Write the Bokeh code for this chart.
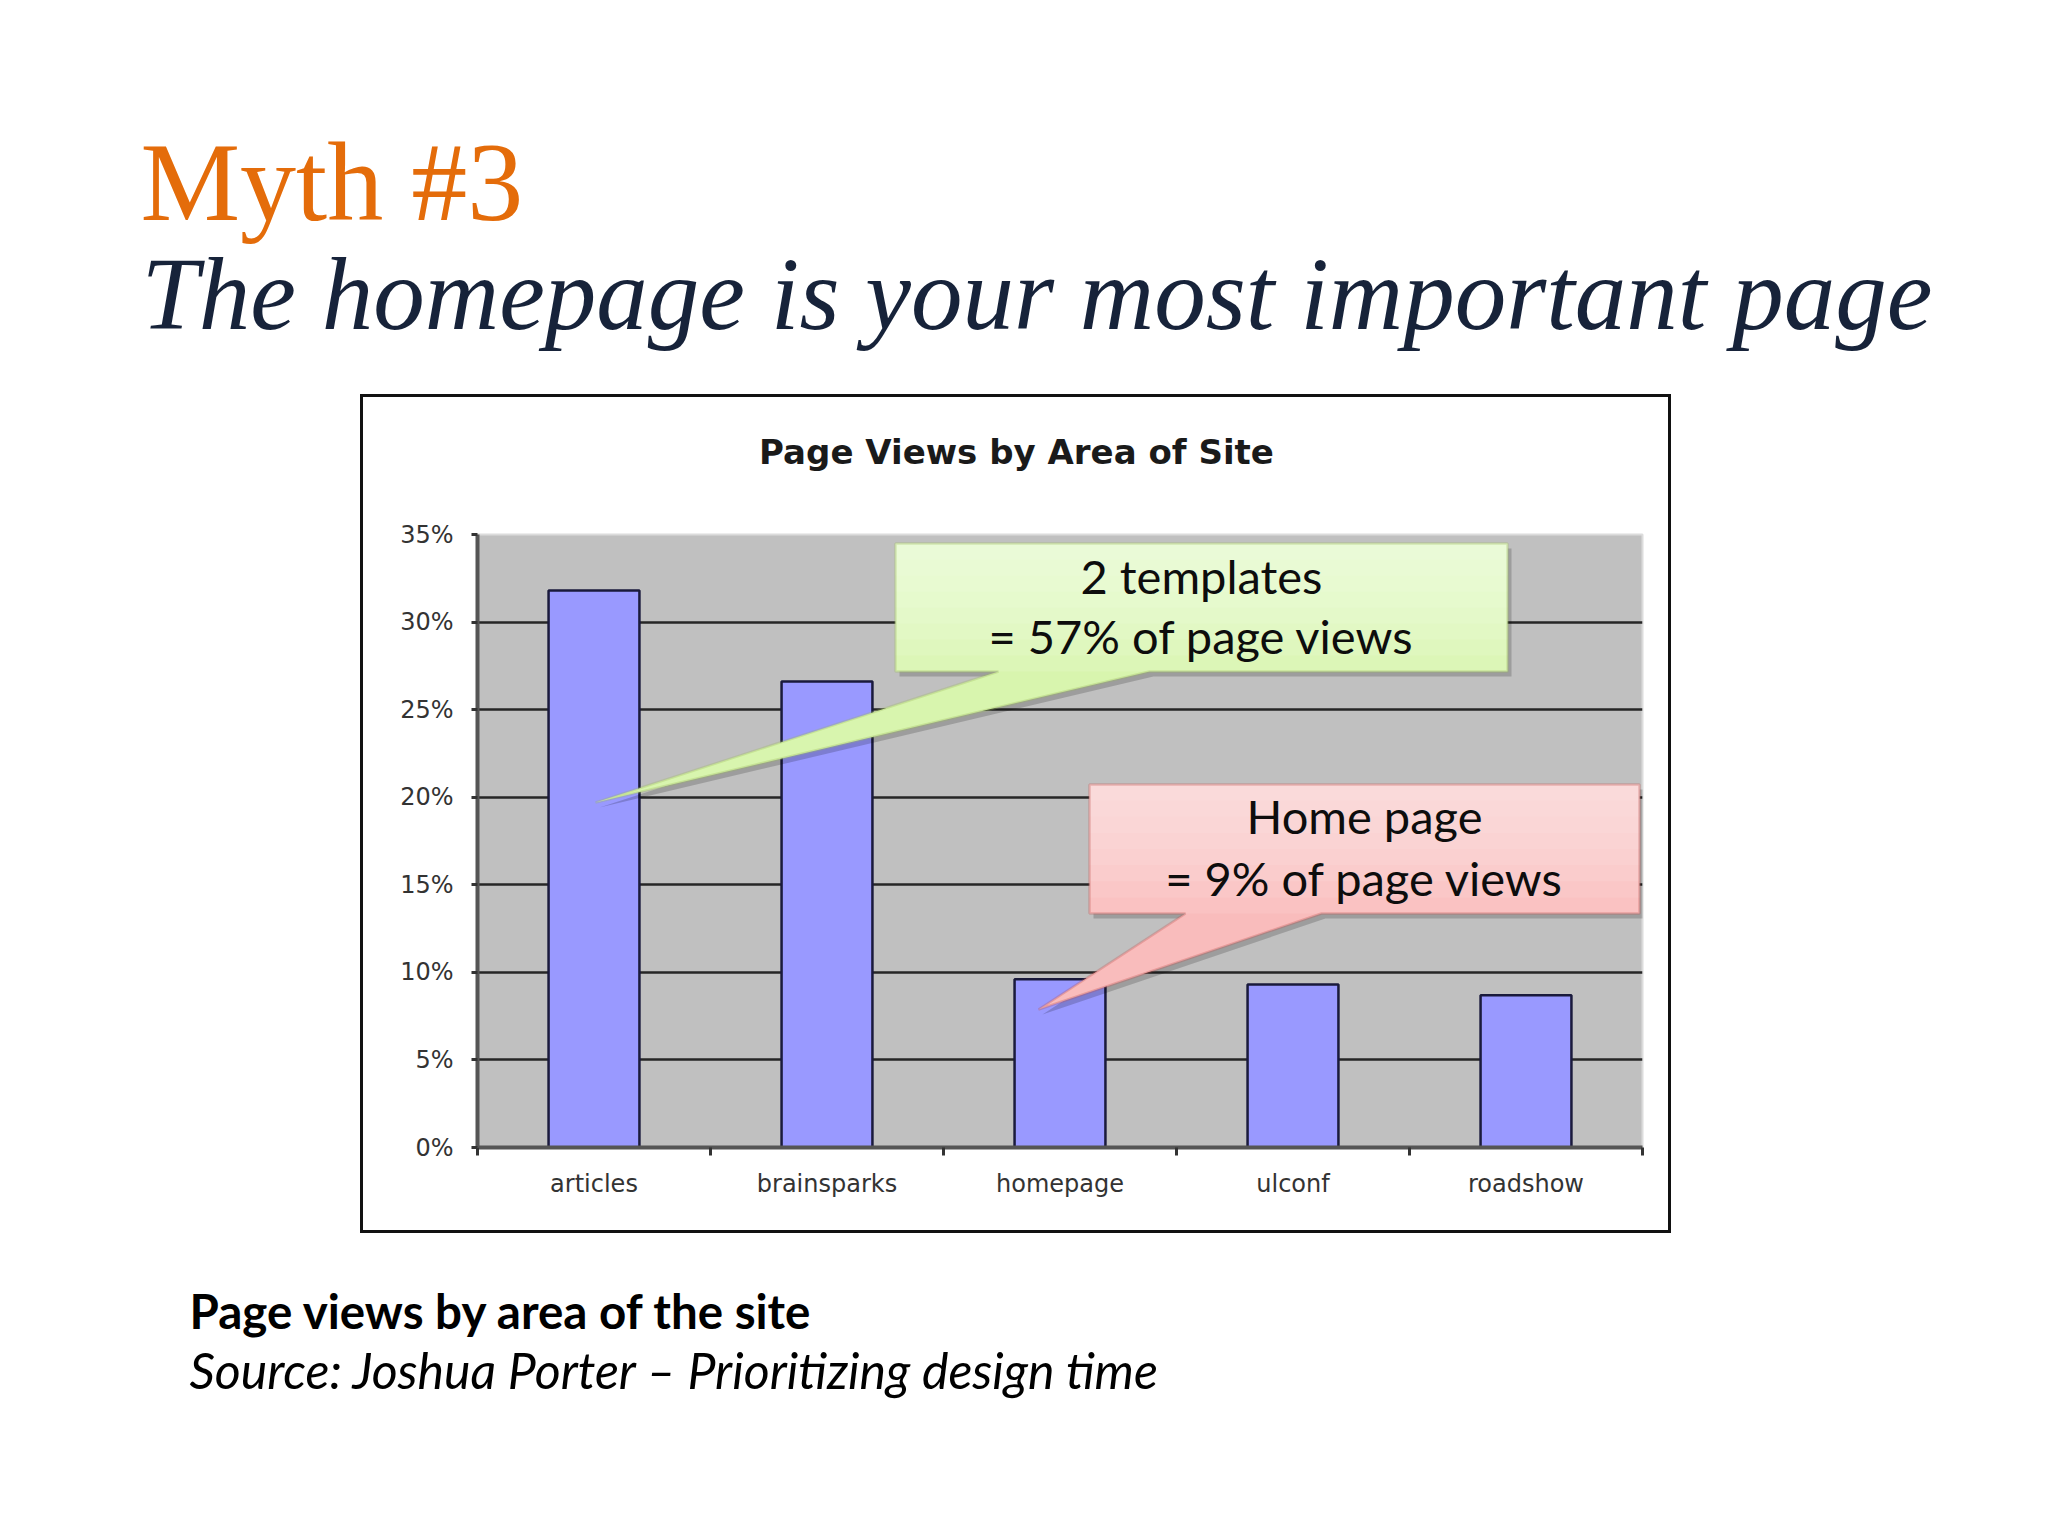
from bokeh.plotting import figure
from bokeh.layouts import column, row
from bokeh.models import (FactorRange, Range1d, LinearAxis, CategoricalAxis, FixedTicker,
                          PrintfTickFormatter, Label, PolyAnnotation, BoxAnnotation, Spacer)
from bokeh.embed import file_html
from bokeh.resources import INLINE

# ---------------- data ----------------
categories = ["articles", "brainsparks", "homepage", "ulconf", "roadshow"]
page_view_share = [31.8, 26.6, 9.6, 9.3, 8.7]   # percent of page views
y_ticks = [0, 5, 10, 15, 20, 25, 30, 35]
grid_ticks = [5, 10, 15, 20, 25, 30]

slide_title = "Myth #3"
slide_subtitle = "The homepage is your most important page"
chart_title = "Page Views by Area of Site"
callout_green = ["2 templates", "= 57% of page views"]
callout_red = ["Home page", "= 9% of page views"]
caption_bold = "Page views by area of the site"
caption_source = "Source: Joshua Porter \u2013 Prioritizing design time"

# ---------------- page geometry (pixels) ----------------
PAGE_W = 2040
LINE = 3                                   # chart box line width
BOX_L, BOX_T, BOX_R, BOX_B = 363, 397, 1668, 1230   # inner edges of the chart box
FR_L, FR_T, FR_R, FR_B = 477, 534, 1642, 1147       # plot area
TITLE_H = 100
BOTTOM_H = 1536 - BOX_B - LINE
BASE_SHIFT = 0.38                          # alphabetic-baseline correction (em)


def blank_fig(w, h):
    f = figure(width=w, height=h, x_range=Range1d(0, w), y_range=Range1d(h, 0),
               output_backend="svg", toolbar_location=None,
               x_axis_location=None, y_axis_location=None,
               min_border=0, outline_line_color=None)
    f.title.visible = False
    f.grid.visible = False
    f.background_fill_color = "white"
    f.border_fill_color = "white"
    return f


def add_text(f, x, y, text, font, size, color, style="normal", align="left"):
    f.add_layout(Label(x=x, y=y - BASE_SHIFT * size, x_units="canvas", y_units="canvas",
                       text=text, text_font=font, text_font_size=f"{size}px",
                       text_color=color, text_font_style=style, text_align=align,
                       text_baseline="alphabetic"))


def line_block(w, h):
    return Spacer(width=w, height=h, margin=0, styles={"background-color": "#111111"})


# ---------------- top: slide heading ----------------
top = blank_fig(PAGE_W, BOX_T - LINE)
add_text(top, 140, 224, slide_title, "Liberation Serif", 112, "#e46c0a")
add_text(top, 141, 333, slide_subtitle, "Liberation Serif", 103, "#17233a", style="italic")

# ---------------- chart title strip ----------------
CW = BOX_R - BOX_L
tfig = blank_fig(CW, TITLE_H)
add_text(tfig, 1016 - BOX_L, 464 - BOX_T, chart_title, "DejaVu Sans", 34, "#1a1a1a",
         style="bold", align="center")

# ---------------- chart ----------------
C_T = BOX_T + TITLE_H
CH = BOX_B - C_T
p = figure(width=CW, height=CH, x_range=FactorRange(*categories), y_range=Range1d(0, 35),
           output_backend="svg", toolbar_location=None, x_axis_location=None,
           min_border_left=FR_L - BOX_L, min_border_right=BOX_R - FR_R,
           min_border_top=FR_T - C_T, min_border_bottom=BOX_B - FR_B)
p.title.visible = False
p.background_fill_color = "#c0c0c0"
p.border_fill_color = "white"
p.outline_line_color = "#dcdcdc"
p.outline_line_width = 2
p.xgrid.visible = False
p.ygrid.ticker = FixedTicker(ticks=grid_ticks)
p.ygrid.grid_line_color = "#262626"
p.ygrid.grid_line_width = 2.5

ya = p.yaxis[0]
ya.ticker = FixedTicker(ticks=y_ticks)
ya.formatter = PrintfTickFormatter(format="%d%%")
ya.major_label_text_font = "DejaVu Sans"
ya.major_label_text_font_size = "24px"
ya.major_label_text_color = "#333333"
ya.axis_line_color = "#555555"
ya.axis_line_width = 4
ya.major_tick_in = 0
ya.major_tick_out = 6
ya.major_tick_line_width = 3
ya.major_tick_line_color = "#333333"
ya.minor_tick_line_color = None
ya.major_label_standoff = 18

boundary_ticks = list(range(len(categories) + 1))
tick_axis = LinearAxis(ticker=FixedTicker(ticks=boundary_ticks),
                       major_label_overrides={t: "" for t in boundary_ticks},
                       major_label_text_font_size="2px", major_label_standoff=0,
                       major_tick_in=0, major_tick_out=8, major_tick_line_width=3,
                       major_tick_line_color="#333333", minor_tick_line_color=None,
                       axis_line_color="#555555", axis_line_width=4)
p.add_layout(tick_axis, "below")
cat_axis = CategoricalAxis(major_tick_line_color=None, minor_tick_line_color=None,
                           axis_line_color=None, major_label_standoff=8,
                           major_label_text_font="DejaVu Sans",
                           major_label_text_font_size="24px",
                           major_label_text_color="#333333")
p.add_layout(cat_axis, "below")

p.vbar(x=categories, top=page_view_share, bottom=0, width=0.39,
       fill_color="#9999ff", line_color="#1a1a3c", line_width=2.5)


def callout(left, right, top_, bottom, b1, b2, tip, fill_base, fill_top, line_color):
    xs = [left, right, right, b2, tip[0], b1, left]
    ys = [top_, top_, bottom, bottom, tip[1], bottom, bottom]
    xs = [v - BOX_L for v in xs]
    ys = [v - C_T for v in ys]
    p.add_layout(PolyAnnotation(xs=[v + 4 for v in xs], ys=[v + 5 for v in ys],
                                xs_units="canvas", ys_units="canvas",
                                fill_color="black", fill_alpha=0.18, line_color=None))
    p.add_layout(PolyAnnotation(xs=xs, ys=ys, xs_units="canvas", ys_units="canvas",
                                fill_color=fill_base, fill_alpha=1.0, line_color=None))
    n = 8
    hgt = bottom - top_
    for i in range(n):
        p.add_layout(BoxAnnotation(left=left - BOX_L, right=right - BOX_L, top=top_ - C_T,
                                   bottom=top_ + hgt * (i + 1) / n - C_T,
                                   left_units="canvas", right_units="canvas",
                                   top_units="canvas", bottom_units="canvas",
                                   fill_color=fill_top, fill_alpha=0.16, line_color=None))
    p.add_layout(PolyAnnotation(xs=xs, ys=ys, xs_units="canvas", ys_units="canvas",
                                fill_color=None, fill_alpha=0, line_color=line_color,
                                line_width=2.5))


callout(895, 1507, 543, 671, 998, 1149, (595, 802), "#d8f5ae", "#f4fde6", "#9bbb59")
callout(1089, 1639, 784, 913, 1185, 1321, (1038, 1009), "#f9bcbc", "#fde8e8", "#c0504d")

for (xx, yy, t) in [(1201, 593, callout_green[0]), (1201, 653, callout_green[1]),
                    (1364, 833, callout_red[0]), (1364, 895, callout_red[1])]:
    add_text(p, xx - BOX_L, yy - C_T, t, "Lato", 47, "#0d0d0d", align="center")

# ---------------- bottom: caption ----------------
bottom = blank_fig(PAGE_W, BOTTOM_H)
B_T = BOX_B + LINE
add_text(bottom, 189, 1328 - B_T, caption_bold, "Lato", 47.5, "#000000", style="bold")
add_text(bottom, 189, 1388 - B_T, caption_source, "Lato", 50, "#000000", style="italic")

# ---------------- assemble: box lines are thin dark blocks around the chart ----------------
top_line = row(Spacer(width=BOX_L - LINE, height=LINE, margin=0),
               line_block(CW + 2 * LINE, LINE), spacing=0)
bottom_line = row(Spacer(width=BOX_L - LINE, height=LINE, margin=0),
                  line_block(CW + 2 * LINE, LINE), spacing=0)
middle = row(Spacer(width=BOX_L - LINE, height=TITLE_H + CH, margin=0),
             line_block(LINE, TITLE_H + CH),
             column(tfig, p, spacing=0),
             line_block(LINE, TITLE_H + CH), spacing=0)

layout = column(top, top_line, middle, bottom_line, bottom, spacing=0)
open("out.html", "w").write(file_html(layout, INLINE))
